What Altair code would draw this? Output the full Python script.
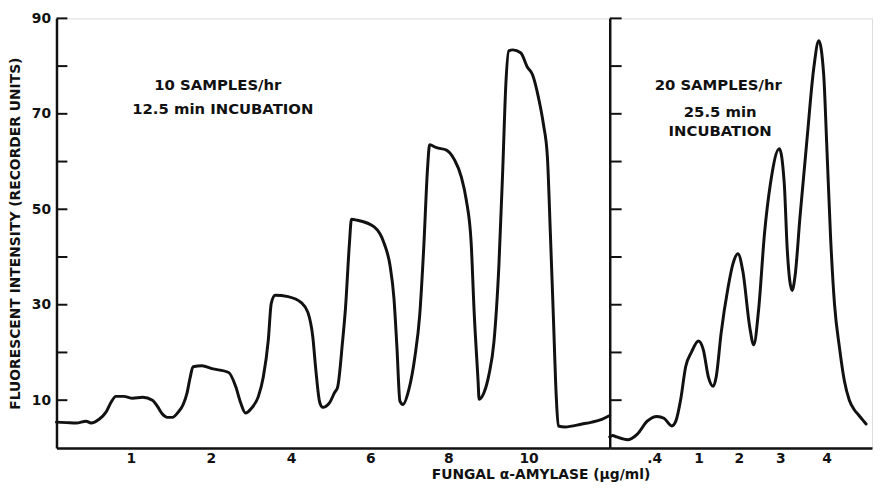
import altair as alt
import pandas as pd

# ---- data (x = trace position, y = recorder units) ----
left_x = [0, 10, 20, 30, 35, 43, 50, 55, 60, 68, 77, 87, 97, 102, 107, 112, 117, 123, 128, 132,
          135, 138, 147, 157, 174, 181, 186, 191, 197, 204, 209, 214, 217, 221, 234, 247, 254, 259,
          262, 266, 269, 276, 281, 284, 289, 292, 296, 298, 304, 321, 331, 337, 341, 344, 347, 350,
          356, 362, 367, 371, 375, 377, 384, 394, 402, 409, 414, 419, 422, 426, 427, 432, 437, 442,
          447, 451, 454, 457, 461, 469, 476, 481, 487, 492, 496, 499, 502, 505, 507, 514, 531, 541,
          551, 559]
left_y = [5.4, 5.3, 5.2, 5.6, 5.2, 6.0, 7.5, 9.5, 10.8, 10.8, 10.4, 10.6, 10.0, 8.7, 7.1, 6.4, 6.4, 7.5, 9.1, 11.6,
          14.7, 17.0, 17.2, 16.6, 15.8, 12.9, 9.5, 7.3, 8.3, 10.8, 14.9, 22.6, 30.3, 32.0, 31.7, 30.5, 28.4, 23.2,
          16.4, 9.5, 8.5, 9.5, 11.6, 12.7, 22.2, 29.3, 42.9, 47.9, 47.7, 46.3, 42.9, 38.2, 31.3, 21.0, 9.8, 9.1,
          12.2, 18.9, 27.8, 41.7, 58.9, 63.5, 62.9, 62.4, 60.4, 56.8, 52.0, 42.9, 28.5, 13.9, 10.2, 11.6, 15.4, 22.2,
          38.2, 58.9, 76.1, 83.2, 83.4, 82.8, 79.7, 78.2, 73.4, 67.8, 61.0, 45.0, 27.8, 10.6, 4.6, 4.4, 5.0, 5.4,
          6.0, 6.8]

right_x = [0, 3, 7, 18, 28, 38, 48, 55, 63, 67, 72, 77, 83, 90, 95, 100, 105, 108, 113, 120,
           125, 130, 135, 142, 146, 151, 157, 163, 172, 177, 180, 185, 188, 193, 200, 207, 212, 217,
           220, 224, 228, 233, 238, 243, 248, 252, 256, 260]
right_y = [2.3, 2.6, 2.3, 1.7, 2.9, 5.6, 6.6, 6.2, 4.6, 5.6, 10.2, 17.0, 20.1, 22.4, 20.5, 14.9, 12.9, 14.9, 24.1, 33.6,
           38.6, 40.7, 37.0, 25.3, 21.6, 29.0, 45.0, 55.4, 62.7, 55.4, 41.7, 33.0, 36.1, 48.5, 64.5, 79.7, 85.3, 78.2,
           64.0, 44.0, 30.0, 21.0, 14.0, 10.0, 8.0, 7.0, 6.0, 5.0]

y_ticks = [10, 20, 30, 40, 50, 60, 70, 80, 90]
y_labels = [10, 30, 50, 70, 90]

left_tick_pos = [75, 156, 237, 317, 396, 477]
left_tick_text = ["1", "2", "4", "6", "8", "10"]
right_tick_pos = [45, 90, 131, 173, 220]
right_tick_text = [".4", "1", "2", "3", "4"]

left_notes = ["10 SAMPLES/hr", "12.5 min INCUBATION"]
left_notes_x = [163, 168]
left_notes_y = [76.1, 71.1]
right_notes = ["20 SAMPLES/hr", "25.5 min", "INCUBATION"]
right_notes_x = [110, 112, 112]
right_notes_y = [76.1, 70.3, 66.4]

FONT = "DejaVu Sans"
INK = "#111111"


def label_expr(pos, text):
    parts = " : ".join(f"datum.value == {p} ? '{t}'" for p, t in zip(pos, text))
    return parts + " : ''"


yscale = alt.Scale(domain=[0, 90], nice=False, zero=True)

left_df = pd.DataFrame({"x": left_x, "y": left_y})
right_df = pd.DataFrame({"x": right_x, "y": right_y})
ticks_df = pd.DataFrame({"y": y_ticks})

# ---------------- left panel ----------------
left_line = alt.Chart(left_df).mark_line(
    color=INK, strokeWidth=3, interpolate="monotone", strokeJoin="round", strokeCap="round"
).encode(
    x=alt.X("x:Q", scale=alt.Scale(domain=[0, 559], nice=False),
            axis=alt.Axis(values=left_tick_pos, labelExpr=label_expr(left_tick_pos, left_tick_text),
                          ticks=False, grid=False, domainColor=INK, domainWidth=2.5,
                          labelFont=FONT, labelFontSize=14, labelFontWeight="bold", labelColor=INK,
                          labelPadding=4,
                          title="FUNGAL α-AMYLASE (µg/ml)", titleFont=FONT, titleFontSize=14,
                          titleFontWeight="bold", titleColor=INK, titleX=489, titleY=27,
                          titleAlign="center", titleBaseline="middle")),
    y=alt.Y("y:Q", scale=yscale,
            axis=alt.Axis(values=y_labels, ticks=False, grid=False, domainColor=INK, domainWidth=2.5,
                          labelFont=FONT, labelFontSize=14, labelFontWeight="bold", labelColor=INK,
                          labelPadding=6,
                          title="FLUORESCENT INTENSITY (RECORDER UNITS)", titleFont=FONT,
                          titleFontSize=14, titleFontWeight="bold", titleColor=INK,
                          titleX=-41, titleBaseline="middle")),
)

left_ticks = alt.Chart(ticks_df).mark_rule(color=INK, strokeWidth=2).encode(
    x=alt.value(0), x2=alt.value(11), y=alt.Y("y:Q", scale=yscale)
)

left_text = alt.Chart(pd.DataFrame({"t": left_notes, "x": left_notes_x, "y": left_notes_y})).mark_text(
    font=FONT, fontSize=15, fontWeight="bold", color=INK, align="center", baseline="middle"
).encode(x="x:Q", y=alt.Y("y:Q", scale=yscale), text="t:N")

left = alt.layer(left_line, left_ticks, left_text).properties(width=559, height=434)

# ---------------- right panel ----------------
right_line = alt.Chart(right_df).mark_line(
    color=INK, strokeWidth=3, interpolate="monotone", strokeJoin="round", strokeCap="round"
).encode(
    x=alt.X("x:Q", scale=alt.Scale(domain=[0, 266], nice=False),
            axis=alt.Axis(values=right_tick_pos, labelExpr=label_expr(right_tick_pos, right_tick_text),
                          ticks=False, grid=False, domainColor=INK, domainWidth=2.5,
                          labelFont=FONT, labelFontSize=14, labelFontWeight="bold", labelColor=INK,
                          labelPadding=4, title=None)),
    y=alt.Y("y:Q", scale=yscale,
            axis=alt.Axis(labels=False, ticks=False, grid=False, domainColor=INK, domainWidth=2.5,
                          title=None)),
)

right_ticks = alt.Chart(ticks_df).mark_rule(color=INK, strokeWidth=2).encode(
    x=alt.value(0), x2=alt.value(12), y=alt.Y("y:Q", scale=yscale)
)

right_text = alt.Chart(pd.DataFrame({"t": right_notes, "x": right_notes_x, "y": right_notes_y})).mark_text(
    font=FONT, fontSize=15, fontWeight="bold", color=INK, align="center", baseline="middle"
).encode(x="x:Q", y=alt.Y("y:Q", scale=yscale), text="t:N")

right = alt.layer(right_line, right_ticks, right_text).properties(width=265, height=434)

chart = alt.hconcat(left, right, spacing=0, bounds="flush").properties(
    padding={"left": 0, "top": 0, "right": 0, "bottom": 0},
).configure_view(stroke=None).configure(background="white")

chart.save("out.html", embed_options={"renderer": "svg", "actions": False})
